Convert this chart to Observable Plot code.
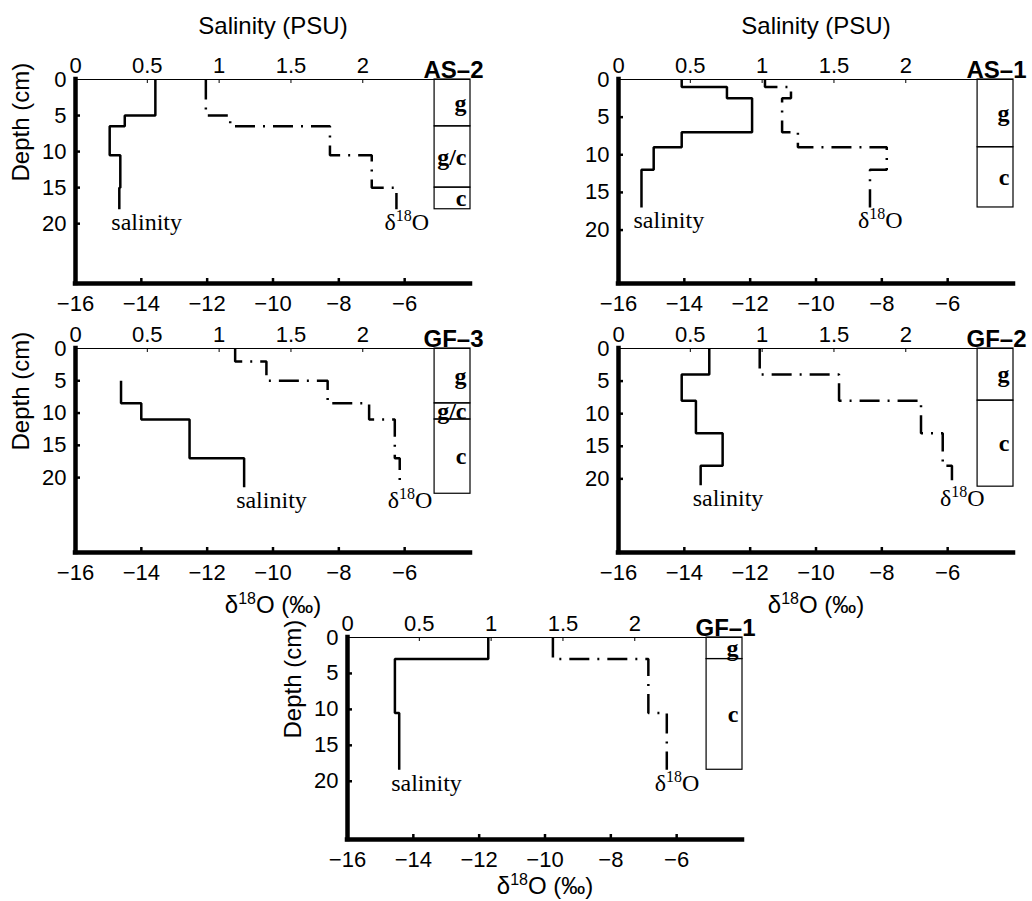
<!DOCTYPE html>
<html><head><meta charset="utf-8">
<script src="https://cdn.jsdelivr.net/npm/d3@7"></script>
<script src="https://cdn.jsdelivr.net/npm/@observablehq/plot@0.6"></script>
<style>
body{margin:0;background:#fff;}
#chart{position:relative;width:1032px;height:901px;overflow:hidden;background:#fff;}
#chart svg{position:absolute;}
</style></head><body><div id="chart"></div>
<script>
// ---- tick labels / axes ----
const salTicks = [0, 0.5, 1, 1.5, 2];
const d18Ticks = [-16, -14, -12, -10, -8, -6];
const depthTicks = [0, 5, 10, 15, 20];
const salDomain = [0, 2.75];
const d18Domain = [-16, -4];
const coreX = [2.5, 2.75];

// ---- AS-2 ----
const salDepthAS2 = [0, 5, 6.5, 10.5, 15, 18];
const salAS2 = [0.556, 0.343, 0.238, 0.312, 0.305];
const d18DepthAS2 = [0, 5, 6.5, 10.5, 15, 18];
const d18AS2 = [-12.04, -11.3, -8.27, -7.0, -6.25];
const coreDepthAS2 = [0, 6.5, 15, 18];
const coreLabAS2 = ["g", "g/c", "c"];

// ---- AS-1 ----
const salDepthAS1 = [0, 1, 2.5, 7, 9, 12, 17];
const salAS1 = [0.44, 0.755, 0.93, 0.44, 0.245, 0.16];
const d18DepthAS1 = [0, 1, 2.5, 7, 9, 12, 17];
const d18AS1 = [-11.55, -10.76, -11.03, -10.55, -7.85, -8.36];
const coreDepthAS1 = [0, 9, 17];
const coreLabAS1 = ["g", "c"];

// ---- GF-3 ----
const salDepthGF3 = [5, 8.5, 11, 17, 21.5];
const salGF3 = [0.317, 0.458, 0.794, 1.174];
const d18DepthGF3 = [0, 2, 5, 8.5, 11, 17, 21.5];
const d18GF3 = [-11.15, -10.2, -8.34, -7.08, -6.3, -6.15];
const coreDepthGF3 = [0, 8.5, 11, 22.5];
const coreLabGF3 = ["g", "g/c", "c"];

// ---- GF-2 ----
const salDepthGF2 = [0, 4, 8, 13, 18, 21];
const salGF2 = [0.632, 0.44, 0.539, 0.725, 0.572];
const d18DepthGF2 = [0, 4, 8, 13, 18, 21];
const d18GF2 = [-11.71, -9.3, -6.81, -6.15, -5.87];
const coreDepthGF2 = [0, 8, 21.2];
const coreLabGF2 = ["g", "c"];

// ---- GF-1 ----
const salDepthGF1 = [0, 3, 10.5, 18.4];
const salGF1 = [0.98, 0.33, 0.36];
const d18DepthGF1 = [0, 3, 10.5, 18.4];
const d18GF1 = [-9.76, -6.86, -6.3];
const coreDepthGF1 = [0, 3, 18.4];
const coreLabGF1 = ["g", "c"];

const panels = [
  {name: "AS–2", left: 75, top: 79, fh: 204, depthMax: 28.3, salDepth: salDepthAS2, sal: salAS2, d18Depth: d18DepthAS2, d18: d18AS2, coreDepth: coreDepthAS2, coreLab: coreLabAS2, salTitle: true, depthLabel: true, d18Label: false, d18LabelDy: 60},
  {name: "AS–1", left: 618, top: 79, fh: 204, depthMax: 27.1, salDepth: salDepthAS1, sal: salAS1, d18Depth: d18DepthAS1, d18: d18AS1, coreDepth: coreDepthAS1, coreLab: coreLabAS1, salTitle: true, depthLabel: false, d18Label: false, d18LabelDy: 60},
  {name: "GF–3", left: 75, top: 348, fh: 204, depthMax: 31.6, salDepth: salDepthGF3, sal: salGF3, d18Depth: d18DepthGF3, d18: d18GF3, coreDepth: coreDepthGF3, coreLab: coreLabGF3, salTitle: false, depthLabel: true, d18Label: true, d18LabelDy: 60},
  {name: "GF–2", left: 618, top: 348, fh: 204, depthMax: 31.3, salDepth: salDepthGF2, sal: salGF2, d18Depth: d18DepthGF2, d18: d18GF2, coreDepth: coreDepthGF2, coreLab: coreLabGF2, salTitle: false, depthLabel: false, d18Label: true, d18LabelDy: 60},
  {name: "GF–1", left: 347, top: 637, fh: 202, depthMax: 28.1, salDepth: salDepthGF1, sal: salGF1, d18Depth: d18DepthGF1, d18: d18GF1, coreDepth: coreDepthGF1, coreLab: coreLabGF1, salTitle: false, depthLabel: true, d18Label: true, d18LabelDy: 54}
];

const ML = 75, MR = 45, MT = 79, MB = 70, FW = 395;
const W = ML + FW + MR;
const SANS = "'Liberation Sans', Arial, Helvetica, sans-serif";
const SERIF = "'Liberation Serif', 'Times New Roman', serif";
const fmt = d => (d < 0 ? "\u2212" + (-d) : String(d));

function steps(depths, values) {
  const pts = [];
  values.forEach((v, i) => { pts.push({v, d: depths[i]}, {v, d: depths[i + 1]}); });
  return pts;
}

function supify(svg, subSize, shift) {
  const ns = "http://www.w3.org/2000/svg";
  svg.querySelectorAll("text").forEach(t => {
    const s = t.textContent;
    if (s.startsWith("δ18O")) {
      const rest = s.slice(4);
      while (t.firstChild) t.removeChild(t.firstChild);
      const a = document.createElementNS(ns, "tspan"); a.textContent = "δ"; t.appendChild(a);
      const b = document.createElementNS(ns, "tspan"); b.textContent = "18";
      b.setAttribute("font-size", subSize); b.setAttribute("dy", -shift); t.appendChild(b);
      const c = document.createElementNS(ns, "tspan"); c.textContent = "O" + rest;
      c.setAttribute("dy", shift); t.appendChild(c);
    }
  });
}

const chart = document.getElementById("chart");

panels.forEach(p => {
  const H = MT + p.fh + MB;
  const style = {background: "transparent", fontFamily: SANS, fontSize: "22px", color: "black"};
  const y = {domain: [0, p.depthMax], reverse: true};
  const d18pts = steps(p.d18Depth, p.d18);
  const salpts = steps(p.salDepth, p.sal);
  const core = p.coreLab.map((lab, i) => ({lab, y1: p.coreDepth[i], y2: p.coreDepth[i + 1], mid: (p.coreDepth[i] + p.coreDepth[i + 1]) / 2}));

  // δ18O layer (bottom axis, left axis)
  const base = Plot.plot({
    width: W, height: H, marginLeft: ML, marginRight: MR, marginTop: MT, marginBottom: MB,
    style,
    x: {domain: d18Domain},
    y,
    marks: [
      Plot.axisX({anchor: "bottom", ticks: d18Ticks, tickSize: 0, tickPadding: 12, tickFormat: fmt, label: null, fontSize: 22}),
      Plot.axisY({anchor: "left", ticks: depthTicks, tickSize: 0, tickPadding: 9, tickFormat: fmt, label: null, fontSize: 22}),
      Plot.tickX(d18Ticks.slice(1), {x: d => d, insetTop: p.fh - 5, strokeWidth: 2.5}),
      Plot.tickY(depthTicks.slice(1), {y: d => d, insetRight: FW - 5, strokeWidth: 2.5}),
      Plot.ruleY([0], {strokeWidth: 1}),
      Plot.ruleX([d18Domain[0]], {strokeWidth: 4.5, strokeLinecap: "square"}),
      Plot.ruleY([p.depthMax], {strokeWidth: 4.5, strokeLinecap: "square"}),
      Plot.line(d18pts, {x: "v", y: "d", strokeWidth: 2.5, strokeDasharray: "20,8,2,8", strokeLinejoin: "miter", strokeLinecap: "butt"}),
      Plot.text([d18pts[d18pts.length - 1]], {x: "v", y: "d", text: () => "δ18O", textAnchor: "start", lineAnchor: "bottom", dx: -12, dy: 21, fontFamily: SERIF, fontSize: 24}),
      p.depthLabel ? Plot.text(["Depth (cm)"], {frameAnchor: "left", dx: -54, rotate: -90, fontSize: 24}) : null,
      p.d18Label ? Plot.text(["δ18O (‰)"], {frameAnchor: "bottom", dy: p.d18LabelDy, lineAnchor: "bottom", fontSize: 24}) : null
    ]
  });

  // salinity layer (top axis)
  const top = Plot.plot({
    width: W, height: H, marginLeft: ML, marginRight: MR, marginTop: MT, marginBottom: MB,
    style,
    x: {domain: salDomain},
    y: {...y, axis: null},
    marks: [
      Plot.axisX({anchor: "top", ticks: salTicks, tickSize: 0, tickPadding: 7, tickFormat: d => String(d), label: null, fontSize: 22}),
      Plot.tickX(salTicks.slice(1), {x: d => d, insetBottom: p.fh - 4, strokeWidth: 1}),
      Plot.rect(core, {x1: () => coreX[0], x2: () => coreX[1], y1: "y1", y2: "y2", stroke: "black", strokeWidth: 1.2, fill: "none"}),
      Plot.text(core, {x: () => coreX[1], y: "mid", text: "lab", textAnchor: "end", dx: -4, fontFamily: SERIF, fontWeight: "bold", fontSize: 24}),
      Plot.line(salpts, {x: "v", y: "d", strokeWidth: 2.5, strokeLinejoin: "miter", strokeLinecap: "butt"}),
      Plot.text([salpts[salpts.length - 1]], {x: "v", y: "d", text: () => "salinity", textAnchor: "start", lineAnchor: "bottom", dx: -8, dy: 21, fontFamily: SERIF, fontSize: 24}),
      Plot.text([p.name], {frameAnchor: "top-right", dx: 13, dy: -2, textAnchor: "end", lineAnchor: "bottom", fontWeight: "bold", fontSize: 24}),
      p.salTitle ? Plot.text(["Salinity (PSU)"], {frameAnchor: "top", dy: -46, lineAnchor: "bottom", fontSize: 24}) : null
    ]
  });

  supify(base, 16, 9);
  [base, top].forEach(svg => {
    svg.style.left = (p.left - ML) + "px";
    svg.style.top = (p.top - MT) + "px";
    chart.appendChild(svg);
  });
});
</script></body></html>
